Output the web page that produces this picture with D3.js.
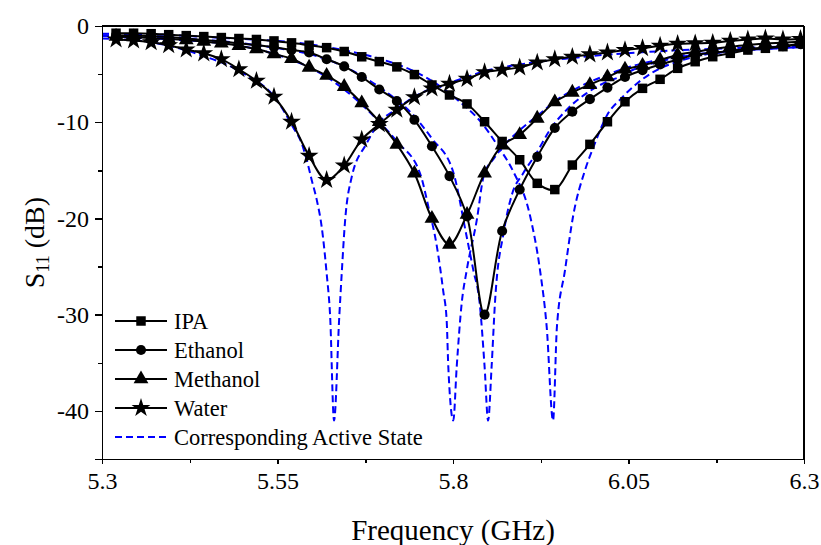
<!DOCTYPE html>
<html>
<meta charset="utf-8">
<style>
body { margin: 0; background: #fff; }
.axis path, .axis line { fill: none; stroke: #000; stroke-width: 1.5px; shape-rendering: crispEdges; }
path.meas { fill: none; stroke: #000; stroke-width: 2px; }
path.active { fill: none; stroke: #0000ff; stroke-width: 2px; stroke-dasharray: 7,4; }
</style>
<body>
<div id="chart"></div>
<script src="https://d3js.org/d3.v7.min.js"></script>
<script>

var serif = "Liberation Serif";

// measured frequency points (GHz), one marker each
var freq = [5.32, 5.345, 5.37, 5.395, 5.42, 5.445, 5.47, 5.495, 5.52, 5.545,
            5.57, 5.595, 5.62, 5.645, 5.67, 5.695, 5.72, 5.745, 5.77, 5.795,
            5.82, 5.845, 5.87, 5.895, 5.92, 5.945, 5.97, 5.995, 6.02, 6.045,
            6.07, 6.095, 6.12, 6.145, 6.17, 6.195, 6.22, 6.245, 6.27, 6.295];

var ipa = [-0.75, -0.75, -0.8, -0.9, -1.0, -1.1, -1.2, -1.3, -1.4, -1.55,
           -1.75, -2.0, -2.25, -2.65, -3.2, -3.7, -4.25, -5.05, -6.13, -7.17,
           -8.1, -9.95, -12.0, -13.9, -16.35, -17.0, -14.45, -12.3, -9.95, -7.87,
           -6.48, -5.54, -4.4, -3.71, -3.19, -2.84, -2.5, -2.32, -2.15, -1.8];

var ethanol = [-0.95, -1.0, -1.05, -1.15, -1.3, -1.45, -1.6, -1.8, -2.0, -2.2,
               -2.5, -2.75, -3.45, -4.2, -5.3, -6.6, -7.8, -9.75, -12.5, -15.6,
               -19.8, -30.0, -21.3, -17.0, -13.6, -10.6, -8.9, -7.6, -6.4, -5.3,
               -4.6, -4.0, -3.5, -3.0, -2.8, -2.6, -2.4, -2.25, -2.1, -1.9];

var methanol = [-1.1, -1.15, -1.25, -1.35, -1.45, -1.6, -1.8, -2.05, -2.4, -2.9,
                -3.4, -4.3, -5.15, -6.3, -8.0, -9.95, -12.3, -15.3, -20.0, -22.7,
                -19.6, -15.3, -12.4, -11.3, -9.6, -7.9, -6.9, -6.1, -5.3, -4.5,
                -4.1, -3.55, -3.0, -2.7, -2.4, -2.15, -1.97, -1.8, -1.73, -1.63];

var water = [-1.4, -1.5, -1.7, -2.0, -2.45, -2.85, -3.45, -4.5, -5.7, -7.35,
             -9.95, -13.5, -16.0, -14.5, -11.8, -10.2, -8.7, -7.4, -6.5, -6.0,
             -5.5, -4.8, -4.55, -4.3, -3.8, -3.45, -3.2, -2.95, -2.75, -2.5,
             -2.3, -2.05, -1.85, -1.8, -1.75, -1.55, -1.4, -1.3, -1.4, -1.35];

// corresponding active states (simulated), denser near the resonances
var ipaActF = [5.30, 5.35, 5.40, 5.45, 5.50, 5.55, 5.60, 5.65, 5.70, 5.75, 5.78, 5.81, 5.84, 5.865,
               5.885, 5.91, 5.924, 5.9335, 5.9425, 5.948, 5.9595, 5.971, 5.988, 6.0, 6.02, 6.04,
               6.06, 6.085, 6.12, 6.15, 6.2, 6.25, 6.3];
var ipaActS = [-0.8, -0.85, -0.95, -1.15, -1.35, -1.55, -1.95, -2.6, -3.5, -4.9, -6.2, -7.9, -10.0, -12.6,
               -15, -19.8, -25.4, -31.3, -41, -31.3, -25.4, -19.8, -15, -12.6, -9.2, -7.5,
               -6.1, -4.8, -3.7, -3.1, -2.6, -2.35, -2.15];

var ethActF = [5.30, 5.40, 5.50, 5.55, 5.60, 5.65, 5.70, 5.74, 5.77, 5.80, 5.8195, 5.829, 5.838, 5.845,
               5.850, 5.855, 5.860, 5.8726, 5.884, 5.90, 5.919, 5.938, 5.962, 5.99, 6.019, 6.038,
               6.056, 6.1, 6.2, 6.3];
var ethActS = [-0.95, -1.25, -1.8, -2.3, -3.0, -4.4, -6.6, -9.0, -11.7, -15.1, -21.9, -25.4, -28.8, -35.4,
               -41, -35.4, -28.5, -21.3, -17.5, -15.3, -13.2, -10.8, -8.7, -7.0, -5.8, -5.27,
               -4.57, -3.6, -2.6, -2.2];

var metActF = [5.30, 5.40, 5.50, 5.55, 5.62, 5.66, 5.69, 5.72, 5.753, 5.765, 5.777, 5.786, 5.791, 5.7933,
               5.8004, 5.8053, 5.8124, 5.8195, 5.8338, 5.844, 5.858, 5.8717, 5.8954, 5.924, 5.9477,
               5.9714, 5.9952, 6.019, 6.038, 6.1, 6.2, 6.3];
var metActS = [-1.05, -1.4, -2.1, -3.0, -5.3, -7.5, -9.6, -12.0, -15.3, -18.8, -22.9, -27.5, -30.6, -35.4,
               -41, -35.4, -28.8, -25.4, -20.2, -15.5, -13.8, -12.5, -10.8, -9.1, -7.7,
               -6.65, -5.8, -5.1, -4.57, -3.4, -2.6, -2.2];

var watActF = [5.30, 5.36, 5.392, 5.44, 5.497, 5.549, 5.572, 5.5845, 5.5916, 5.5987, 5.606, 5.613, 5.620,
               5.625, 5.6305, 5.638, 5.6415, 5.646, 5.6557, 5.677, 5.691, 5.72, 5.746, 5.796, 5.843,
               5.924, 5.96, 6.0, 6.1, 6.2, 6.3];
var watActS = [-1.3, -1.6, -2.0, -3.0, -4.75, -7.7, -10.5, -12.2, -13.9, -16, -18.1, -20.9, -25.7,
               -30.2, -41, -30.2, -25.7, -20.5, -15.7, -12.2, -10.4, -8.6, -7.3, -5.9, -4.75,
               -3.7, -3.4, -3.1, -2.6, -2.3, -2.1];

var xTicks = [5.3, 5.55, 5.8, 6.05, 6.3];
var xMinor = [5.425, 5.675, 5.925, 6.175];
var yTicks = [0, -10, -20, -30, -40];
var yMinor = [-5, -15, -25, -35, -45];

var legendNames = ["IPA", "Ethanol", "Methanol", "Water"];
var legendActive = "Corresponding Active State";

var margin = {top: 26, right: 17, bottom: 86, left: 102},
    width = 821 - margin.left - margin.right,
    height = 545 - margin.top - margin.bottom;

var svg = d3.select("#chart").append("svg")
    .attr("width", 821)
    .attr("height", 545);

var g = svg.append("g")
    .attr("transform", "translate(" + margin.left + "," + margin.top + ")");

var x = d3.scaleLinear().domain([5.3, 6.3]).range([0, width]);
var y = d3.scaleLinear().domain([-45, 0]).range([height, 0]);

g.append("clipPath").attr("id", "plotClip")
  .append("rect").attr("width", width).attr("height", height);

var plot = g.append("g").attr("clip-path", "url(#plotClip)");

var smooth = d3.line()
    .x(function(d) { return x(d[0]); })
    .y(function(d) { return y(d[1]); })
    .curve(d3.curveCatmullRom.alpha(0.5));

var dashLine = d3.line()
    .x(function(d) { return x(d[0]); })
    .y(function(d) { return y(d[1]); })
    .curve(d3.curveMonotoneX);

var active = [[ipaActF, ipaActS], [ethActF, ethActS], [metActF, metActS], [watActF, watActS]];
active.forEach(function(a) {
  plot.append("path")
    .datum(d3.zip(a[0], a[1]))
    .attr("class", "active")
    .attr("d", dashLine);
});

var symbols = [d3.symbolSquare, d3.symbolCircle, d3.symbolTriangle, d3.symbolStar];
var sizes = [90, 80, 95, 110];
var measured = [ipa, ethanol, methanol, water];

measured.forEach(function(s, i) {
  var pts = d3.zip(freq, s);
  plot.append("path")
    .datum(pts)
    .attr("class", "meas")
    .attr("d", smooth);
  plot.selectAll(".m" + i)
    .data(pts)
    .enter().append("path")
    .attr("class", "m" + i)
    .attr("transform", function(d) { return "translate(" + x(d[0]) + "," + y(d[1]) + ")"; })
    .attr("d", d3.symbol().type(symbols[i]).size(sizes[i]))
    .attr("fill", "#000");
});

// axes
g.append("g")
  .attr("class", "axis")
  .attr("transform", "translate(0," + height + ")")
  .call(d3.axisBottom(x).tickValues(xTicks).tickSize(5).tickPadding(8)
        .tickFormat(function(d) { return String(d); }));

g.append("g")
  .attr("class", "axis")
  .attr("transform", "translate(0," + height + ")")
  .call(d3.axisBottom(x).tickValues(xMinor).tickSize(4).tickFormat(""));

g.append("g")
  .attr("class", "axis")
  .call(d3.axisLeft(y).tickValues(yTicks).tickSize(7).tickPadding(6)
        .tickFormat(function(d) { return String(d); }));

g.append("g")
  .attr("class", "axis")
  .call(d3.axisLeft(y).tickValues(yMinor).tickSize(4).tickFormat(""));

g.selectAll(".axis").attr("font-family", serif).attr("font-size", 24);
g.selectAll(".axis text").attr("fill", "#000");

g.append("line").attr("x1", 0).attr("x2", width).attr("y1", 0).attr("y2", 0)
  .attr("stroke", "#000").attr("stroke-width", 1.5).attr("shape-rendering", "crispEdges");
g.append("line").attr("x1", width).attr("x2", width).attr("y1", 0).attr("y2", height)
  .attr("stroke", "#000").attr("stroke-width", 1.5).attr("shape-rendering", "crispEdges");

// titles
svg.append("text")
  .attr("x", margin.left + width / 2)
  .attr("y", 540)
  .attr("text-anchor", "middle")
  .attr("font-family", serif)
  .attr("font-size", 29)
  .text("Frequency (GHz)");

var yt = svg.append("text")
  .attr("transform", "translate(44," + (margin.top + height / 2) + ") rotate(-90)")
  .attr("text-anchor", "middle")
  .attr("font-family", serif)
  .attr("font-size", 28);
yt.append("tspan").text("S");
yt.append("tspan").attr("baseline-shift", "-25%").attr("font-size", 18).text("11");
yt.append("tspan").text(" (dB)");

// legend
var lg = svg.append("g").attr("transform", "translate(115,321)")
  .attr("font-family", serif).attr("font-size", 22.5);
legendNames.forEach(function(n, i) {
  var row = lg.append("g").attr("transform", "translate(0," + (i * 29) + ")");
  row.append("line").attr("x1", 0).attr("x2", 52).attr("y1", 0).attr("y2", 0)
    .attr("stroke", "#000").attr("stroke-width", 2);
  row.append("path")
    .attr("transform", "translate(26,0)")
    .attr("d", d3.symbol().type(symbols[i]).size(sizes[i]))
    .attr("fill", "#000");
  row.append("text").attr("x", 59).attr("y", 8).text(n);
});
var ar = lg.append("g").attr("transform", "translate(0," + (4 * 29) + ")");
ar.append("line").attr("x1", 0).attr("x2", 52).attr("y1", 0).attr("y2", 0)
  .attr("stroke", "#0000ff").attr("stroke-width", 2).attr("stroke-dasharray", "7,4");
ar.append("text").attr("x", 59).attr("y", 8).text(legendActive);

</script>
</body>
</html>
